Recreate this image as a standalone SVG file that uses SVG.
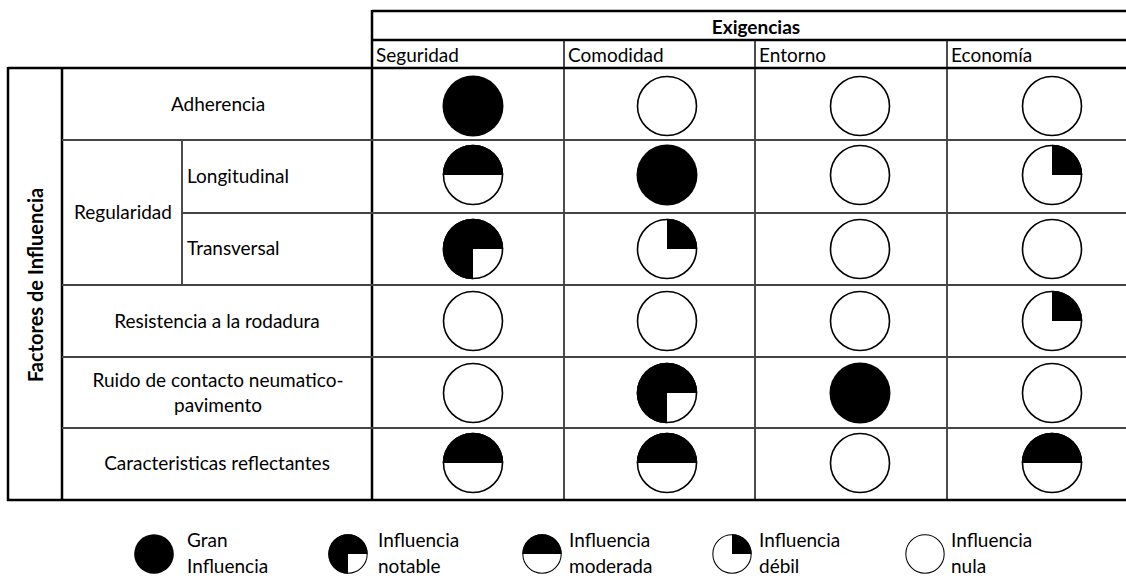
<svg xmlns="http://www.w3.org/2000/svg" xmlns:xlink="http://www.w3.org/1999/xlink" width="1126" height="581" viewBox="0 0 1126 581">
<style>
text{font-family:Lato,"Liberation Sans",sans-serif;font-size:19px;fill:#000}
.b{font-weight:bold}
.c{text-anchor:middle}
.thick{stroke:#000;stroke-width:2.5;fill:none}
.mid{stroke:#111;stroke-width:1.5;fill:none}
.row{stroke:#444;stroke-width:2;fill:none}
</style>
<defs>
<g id="g-full"><circle r="30.5" fill="#000"/></g>
<g id="g-null"><circle r="29.5" fill="#fff" stroke="#000" stroke-width="1.6"/></g>
<g id="g-half"><circle r="29.5" fill="#fff" stroke="#000" stroke-width="1.6"/><path d="M-30.3 0 A30.3 30.3 0 0 1 30.3 0 Z" fill="#000"/></g>
<g id="g-quarter"><circle r="29.5" fill="#fff" stroke="#000" stroke-width="1.6"/><path d="M0 0 L0 -30.3 A30.3 30.3 0 0 1 30.3 0 Z" fill="#000"/></g>
<g id="g-three"><circle r="29.5" fill="#fff" stroke="#000" stroke-width="1.6"/><path d="M0 0 L30.3 0 A30.3 30.3 0 1 0 0 30.3 Z" fill="#000"/></g>
</defs>
<rect width="1126" height="581" fill="#fff"/>

<g id="grid">
<line class="thick" x1="372" y1="11" x2="1126" y2="11"/>
<line class="thick" x1="372" y1="40" x2="1126" y2="40"/>
<line class="thick" x1="8" y1="68" x2="1126" y2="68"/>
<line class="thick" x1="372" y1="10" x2="372" y2="501"/>
<line class="mid" x1="564" y1="40" x2="564" y2="500"/>
<line class="mid" x1="755" y1="40" x2="755" y2="500"/>
<line class="mid" x1="947" y1="40" x2="947" y2="500"/>
<line class="thick" x1="8" y1="67" x2="8" y2="501"/>
<line class="thick" x1="62" y1="68" x2="62" y2="500"/>
<line class="mid" x1="182" y1="140" x2="182" y2="285"/>
<line class="row" x1="62" y1="140" x2="1126" y2="140"/>
<line class="row" x1="182" y1="213" x2="1126" y2="213"/>
<line class="row" x1="62" y1="285" x2="1126" y2="285"/>
<line class="row" x1="62" y1="357" x2="1126" y2="357"/>
<line class="row" x1="62" y1="428" x2="1126" y2="428"/>
<line class="thick" x1="7" y1="500" x2="1126" y2="500"/>
</g>

<g id="header">
<text class="b c" x="756" y="34">Exigencias</text>
<text x="376" y="62">Seguridad</text>
<text x="568" y="62">Comodidad</text>
<text x="759" y="62">Entorno</text>
<text x="951" y="62">Economía</text>
</g>

<g id="factores">
<text class="b c" style="font-size:20px" transform="translate(43 285) rotate(-90)">Factores de Influencia</text>
</g>

<g id="row-adherencia">
<text class="c" x="218" y="111">Adherencia</text>
<use xlink:href="#g-full" x="473" y="106"/>
<use xlink:href="#g-null" x="667" y="106"/>
<use xlink:href="#g-null" x="860" y="106"/>
<use xlink:href="#g-null" x="1052" y="106"/>
</g>

<g id="row-regularidad">
<text class="c" x="123" y="219">Regularidad</text>
</g>

<g id="row-longitudinal">
<text x="187" y="183">Longitudinal</text>
<use xlink:href="#g-half" x="473" y="175"/>
<use xlink:href="#g-full" x="667" y="175"/>
<use xlink:href="#g-null" x="860" y="175"/>
<use xlink:href="#g-quarter" x="1052" y="175"/>
</g>

<g id="row-transversal">
<text x="187" y="255">Transversal</text>
<use xlink:href="#g-three" x="473" y="249"/>
<use xlink:href="#g-quarter" x="667" y="249"/>
<use xlink:href="#g-null" x="860" y="249"/>
<use xlink:href="#g-null" x="1052" y="249"/>
</g>

<g id="row-resistencia">
<text class="c" x="217" y="328">Resistencia a la rodadura</text>
<use xlink:href="#g-null" x="473" y="321"/>
<use xlink:href="#g-null" x="667" y="321"/>
<use xlink:href="#g-null" x="860" y="321"/>
<use xlink:href="#g-quarter" x="1052" y="321"/>
</g>

<g id="row-ruido">
<text class="c" x="218" y="387">Ruido de contacto neumatico-</text>
<text class="c" x="218" y="412">pavimento</text>
<use xlink:href="#g-null" x="473" y="393"/>
<use xlink:href="#g-three" x="667" y="393"/>
<use xlink:href="#g-full" x="860" y="393"/>
<use xlink:href="#g-null" x="1052" y="393"/>
</g>

<g id="row-caracteristicas">
<text class="c" x="217" y="470">Caracteristicas reflectantes</text>
<use xlink:href="#g-half" x="473" y="463"/>
<use xlink:href="#g-half" x="667" y="463"/>
<use xlink:href="#g-null" x="860" y="463"/>
<use xlink:href="#g-half" x="1052" y="463"/>
</g>

<g id="legend-gran">
<use xlink:href="#g-full" transform="translate(154 554) scale(0.65)"/>
<text x="187" y="547">Gran</text>
<text x="187" y="573">Influencia</text>
</g>
<g id="legend-notable">
<use xlink:href="#g-three" transform="translate(348 554) scale(0.65)"/>
<text x="378" y="547">Influencia</text>
<text x="378" y="573">notable</text>
</g>
<g id="legend-moderada">
<use xlink:href="#g-half" transform="translate(542 554) scale(0.65)"/>
<text x="569" y="547">Influencia</text>
<text x="569" y="573">moderada</text>
</g>
<g id="legend-debil">
<use xlink:href="#g-quarter" transform="translate(732 554) scale(0.65)"/>
<text x="759" y="547">Influencia</text>
<text x="759" y="573">débil</text>
</g>
<g id="legend-nula">
<use xlink:href="#g-null" transform="translate(925 554) scale(0.65)"/>
<text x="951" y="547">Influencia</text>
<text x="951" y="573">nula</text>
</g>
</svg>
